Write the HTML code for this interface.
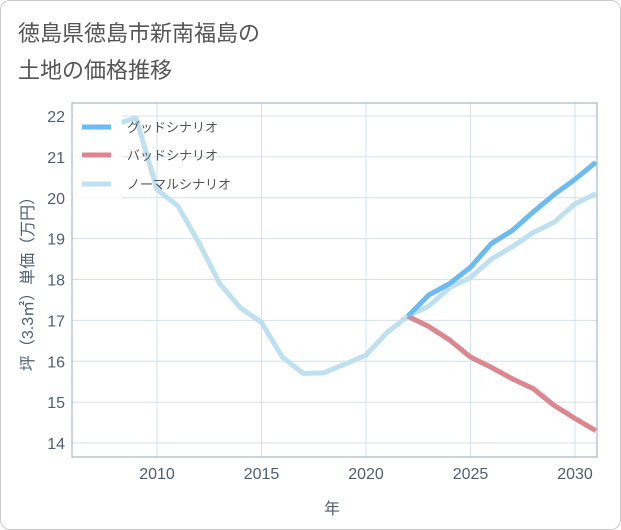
<!DOCTYPE html>
<html><head><meta charset="utf-8"><style>
body{margin:0;background:#fff;font-family:"Liberation Sans","Noto Sans CJK JP",sans-serif;}
.card{position:absolute;left:0;top:0;width:619px;height:528px;border:1px solid #ccc;border-radius:10px;background:#fff;}
</style></head><body>
<div class="card"></div>
<svg id="c" width="621" height="530" style="position:absolute;left:0;top:0">
<text x="18" y="41" font-size="22" fill="#555">徳島県徳島市新南福島の</text>
<text x="18" y="78" font-size="22" fill="#555">土地の価格推移</text>
<g id="grid"></g><g id="lines"></g><g id="leg"></g>
<text x="332" y="514" font-size="16" fill="#4f5f70" text-anchor="middle">年</text>
<text transform="translate(33,280) rotate(-90)" font-size="16" fill="#4f5f70" text-anchor="middle">坪（3.3㎡）単価（万円）</text>
</svg>
<script>
const years=[2008,2009,2010,2011,2012,2013,2014,2015,2016,2017,2018,2019,2020,2021,2022,2023,2024,2025,2026,2027,2028,2029,2030,2031];
const normal=[21.8,21.95,20.2,19.8,18.9,17.9,17.3,16.95,16.1,15.7,15.72,15.93,16.15,16.7,17.1,17.35,17.8,18.05,18.5,18.8,19.15,19.4,19.85,20.1];
const goodYears=[2022,2023,2024,2025,2026,2027,2028,2029,2030,2031];
const good=[17.1,17.62,17.9,18.3,18.88,19.2,19.65,20.08,20.45,20.87];
const bad=[17.1,16.85,16.52,16.1,15.85,15.57,15.33,14.92,14.6,14.3];
const xTicks=[2010,2015,2020,2025,2030];
const yTicks=[14,15,16,17,18,19,20,21,22];
const L=72,R=597,T=103,B=457;
const x=v=>157+(v-2010)*20.9;
const y=v=>443-(v-14)*40.875;
const NS="http://www.w3.org/2000/svg";
function mk(p,t,a){const e=document.createElementNS(NS,t);for(const k in a)e.setAttribute(k,a[k]);p.appendChild(e);return e;}
const g=document.getElementById('grid');
xTicks.forEach(t=>{const l=mk(g,'line',{x1:x(t),x2:x(t),y1:T,y2:B,stroke:'#d5e0ea'});


const tx=mk(g,'text',{x:x(t),y:479,'font-size':16,fill:'#4f5f70','text-anchor':'middle'});tx.textContent=t;

});
yTicks.forEach(t=>{const l=mk(g,'line',{x1:L,x2:R,y1:y(t),y2:y(t),stroke:'#d5e0ea'});


const tx=mk(g,'text',{x:65,y:y(t)+6,'font-size':16,fill:'#4f5f70','text-anchor':'end'});tx.textContent=t;

});
const fr=mk(g,'rect',{x:L,y:T,width:R-L,height:B-T,fill:'none',stroke:'#9aa8b8'});


const ln=document.getElementById('lines');
mk(ln,'clipPath',{id:'cp'}).appendChild(document.createElementNS(NS,'rect'));
const cr=ln.querySelector('clipPath rect');cr.setAttribute('x',L);cr.setAttribute('y',T);cr.setAttribute('width',R-L);cr.setAttribute('height',B-T);
function line(xs,vs,col,name){const p=mk(ln,'polyline',{points:xs.map((a,i)=>x(a)+','+y(vs[i])).join(' '),fill:'none',stroke:col,'stroke-width':5,'stroke-linejoin':'round','clip-path':'url(#cp)'});

}
line(years,normal,'#bfe0ee','normal-scenario-line');
line(goodYears,bad,'#dc8690','bad-scenario-line');
line(goodYears,good,'#6cbbf0','good-scenario-line');
const lg=document.getElementById('leg');
const bg=mk(lg,'rect',{x:73,y:104,width:49,height:96,fill:'#fff','fill-opacity':0.9});


[['グッドシナリオ','#6cbbf0',127],['バッドシナリオ','#dc8690',155],['ノーマルシナリオ','#bfe0ee',184]].forEach(([t,c,yy])=>{
const s=mk(lg,'line',{x1:82,x2:111,y1:yy,y2:yy,stroke:c,'stroke-width':5});


const tx=mk(lg,'text',{x:127,y:yy+5,'font-size':13,fill:'#555'});tx.textContent=t;

});
</script>
</body></html>
